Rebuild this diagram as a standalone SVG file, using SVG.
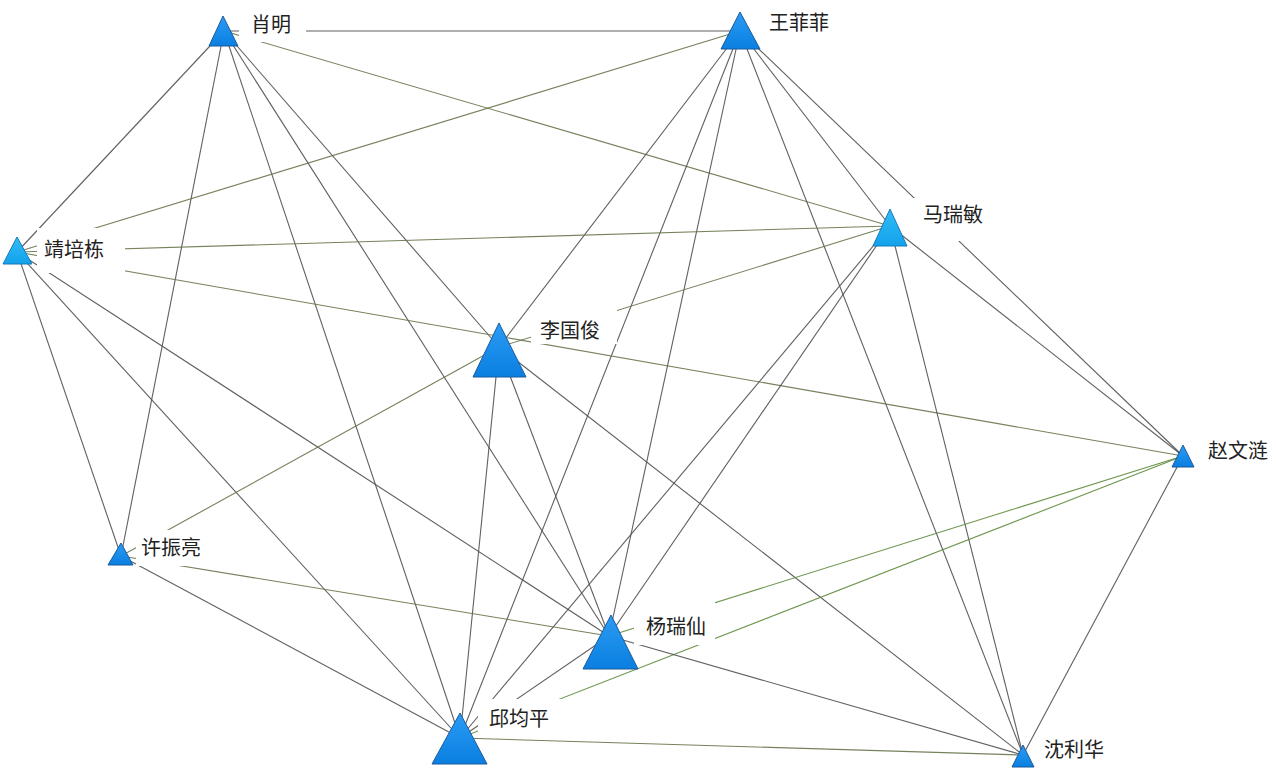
<svg xmlns="http://www.w3.org/2000/svg" width="1276" height="773" viewBox="0 0 1276 773">
<defs>
<linearGradient id="blue" x1="0" y1="0" x2="0" y2="1">
<stop offset="0" stop-color="#2b9cf5"/>
<stop offset="1" stop-color="#0a7fe0"/>
</linearGradient>
<linearGradient id="cyan" x1="0" y1="0" x2="0" y2="1">
<stop offset="0" stop-color="#33bdf7"/>
<stop offset="1" stop-color="#12a2ec"/>
</linearGradient>
</defs>
<style>
.e line{stroke:#4f4f4f;stroke-width:1.1;stroke-opacity:0.9}
.e line.g{stroke:#66744a}
.e line.gg{stroke:#5d8a3a}
.tri{fill:url(#blue);stroke:#1a5a9c;stroke-width:1}
.tri.c{fill:url(#cyan);stroke:#1679b8}
.bg{fill:#ffffff}
.lb{font-family:"Noto Sans CJK SC","Noto Sans",sans-serif;font-size:20px;fill:#222222}
</style>
<rect width="1276" height="773" fill="#ffffff"/>
<g id="connectors" class="e">
<line x1="224" y1="31" x2="740" y2="31"/>
<line class="g" x1="224" y1="31" x2="890" y2="226"/>
<line x1="224" y1="31" x2="17" y2="252"/>
<line x1="224" y1="31" x2="121" y2="556"/>
<line x1="224" y1="31" x2="460" y2="738"/>
<line x1="224" y1="31" x2="609" y2="636"/>
<line x1="224" y1="31" x2="499" y2="347"/>
<line class="g" x1="740" y1="31" x2="17" y2="252"/>
<line x1="740" y1="31" x2="499" y2="347"/>
<line x1="740" y1="31" x2="460" y2="738"/>
<line x1="740" y1="31" x2="609" y2="636"/>
<line x1="740" y1="31" x2="1023" y2="755"/>
<line x1="740" y1="31" x2="890" y2="226"/>
<line x1="740" y1="31" x2="1183" y2="456"/>
<line class="g" x1="17" y1="252" x2="890" y2="226"/>
<line class="g" x1="17" y1="252" x2="1183" y2="456"/>
<line x1="17" y1="252" x2="121" y2="556"/>
<line x1="17" y1="252" x2="460" y2="738"/>
<line x1="17" y1="252" x2="609" y2="636"/>
<line class="g" x1="890" y1="226" x2="499" y2="347"/>
<line x1="890" y1="226" x2="460" y2="738"/>
<line x1="890" y1="226" x2="609" y2="636"/>
<line x1="890" y1="226" x2="1023" y2="755"/>
<line x1="890" y1="226" x2="1183" y2="456"/>
<line class="g" x1="499" y1="347" x2="121" y2="556"/>
<line x1="499" y1="347" x2="460" y2="738"/>
<line x1="499" y1="347" x2="609" y2="636"/>
<line x1="499" y1="347" x2="1023" y2="755"/>
<line class="gg" x1="1183" y1="456" x2="609" y2="636"/>
<line class="gg" x1="1183" y1="456" x2="460" y2="738"/>
<line x1="1183" y1="456" x2="1023" y2="755"/>
<line x1="121" y1="556" x2="460" y2="738"/>
<line class="g" x1="121" y1="556" x2="609" y2="636"/>
<line x1="609" y1="636" x2="1023" y2="755"/>
<line class="g" x1="460" y1="738" x2="1023" y2="755"/>
<line x1="609" y1="636" x2="460" y2="738"/>
</g>
<g id="n-xiaoming">
<polygon class="tri" points="223,16 209,46 238,46"/>
<rect class="bg" x="239" y="5" width="67" height="37"/>
<text class="lb" x="251" y="32">肖明</text>
</g>
<g id="n-wangfeifei">
<polygon class="tri" points="740,12 721,49 760,49"/>
<rect class="bg" x="764" y="0" width="82" height="42"/>
<text class="lb" x="769" y="30">王菲菲</text>
</g>
<g id="n-maruimin">
<polygon class="tri c" points="890,209 873,246 907,246"/>
<rect class="bg" x="912" y="198" width="88" height="43"/>
<text class="lb" x="923" y="222">马瑞敏</text>
</g>
<g id="n-jingpeidong">
<polygon class="tri c" points="17,237 3,264 32,264"/>
<rect class="bg" x="37" y="228" width="88" height="45"/>
<text class="lb" x="44" y="257">靖培栋</text>
</g>
<g id="n-liguojun">
<polygon class="tri" points="499,323 473,377 526,377"/>
<rect class="bg" x="531" y="306" width="86" height="38"/>
<text class="lb" x="540" y="338">李国俊</text>
</g>
<g id="n-zhaowenlian">
<polygon class="tri" points="1183,445 1172,467 1194,467"/>
<rect class="bg" x="1200" y="435" width="76" height="33"/>
<text class="lb" x="1208" y="458">赵文涟</text>
</g>
<g id="n-xuzhenliang">
<polygon class="tri" points="121,543 108,565 133,565"/>
<rect class="bg" x="136" y="530" width="80" height="36"/>
<text class="lb" x="141" y="555">许振亮</text>
</g>
<g id="n-yangruixian">
<polygon class="tri" points="611,615 583,669 638,669"/>
<rect class="bg" x="634" y="600" width="81" height="45"/>
<text class="lb" x="646" y="634">杨瑞仙</text>
</g>
<g id="n-qiujunping">
<polygon class="tri" points="460,713 432,764 487,764"/>
<rect class="bg" x="478" y="699" width="85" height="37"/>
<text class="lb" x="489" y="726">邱均平</text>
</g>
<g id="n-shenlihua">
<polygon class="tri" points="1023,745 1012,767 1034,767"/>
<rect class="bg" x="1038" y="735" width="80" height="38"/>
<text class="lb" x="1044" y="757">沈利华</text>
</g>
</svg>
